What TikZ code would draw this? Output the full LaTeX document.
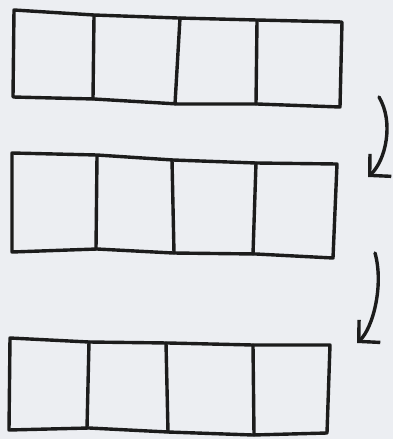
\documentclass[tikz,border=0pt]{standalone}
\usetikzlibrary{arrows.meta}
\definecolor{paper}{HTML}{ECEEF2}
\definecolor{ink}{HTML}{1C1C1C}
\begin{document}
\begin{tikzpicture}[x=1pt,y=-1pt,
  sketch/.style={draw=ink,line width=3.4pt,line cap=round,line join=round},
  flow/.style={sketch,-{Straight Barb[length=15pt,width=31pt,line width=3.4pt]}}]
\fill[paper] (0,0) rectangle (393,439);
\useasboundingbox (0,0) rectangle (393,439);
% row 1
\draw[sketch] (14,10) -- (94,15) -- (178,18) -- (257,20) -- (342,22) -- (340,107) -- (257,104) -- (178,104) -- (94,99) -- (13,97) -- cycle;
\draw[sketch] (94,16) -- (93,99);
\draw[sketch] (180,18) -- (175,104);
\draw[sketch] (257,21) -- (256,104);
% row 2
\draw[sketch] (12,153) -- (97,155) -- (173,160) -- (256,163) -- (337,164) -- (333,258) -- (256,254) -- (173,253) -- (97,249) -- (12,252) -- cycle;
\draw[sketch] (97,156) -- (96,249);
\draw[sketch] (172,160) -- (174,253);
\draw[sketch] (256,163) -- (253,254);
% row 3
\draw[sketch] (10,338) -- (89,342) -- (168,343) -- (253,345) -- (330,345) -- (327,433) -- (253,435) -- (168,432) -- (89,428) -- (9,430) -- cycle;
\draw[sketch] (89,342) -- (87,428);
\draw[sketch] (166,343) -- (168,432);
\draw[sketch] (253,345) -- (254,435);
% arrows
\coordinate (a1s) at (379,97);
\coordinate (a1e) at (368,177);
\coordinate (a2s) at (375,253);
\coordinate (a2e) at (357,343);
\draw[flow] (a1s) .. controls (394,122) and (386,160) .. (a1e);
\draw[flow] (a2s) .. controls (384,285) and (373,328) .. (a2e);
\end{tikzpicture}
\end{document}
